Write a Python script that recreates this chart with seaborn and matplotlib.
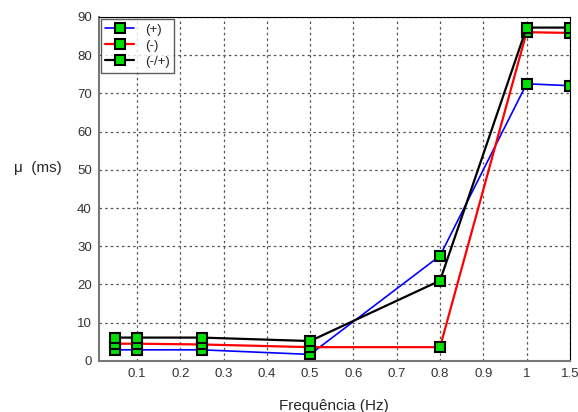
import numpy as np
import pandas as pd
import matplotlib
matplotlib.use("Agg")
import matplotlib.pyplot as plt
import seaborn as sns

freq = [0.05, 0.1, 0.25, 0.5, 0.8, 1.0, 1.5]
mu_pos = [2.9, 2.9, 2.9, 1.7, 27.5, 72.5, 72.0]
mu_neg = [4.5, 4.5, 4.3, 3.6, 3.6, 86.0, 85.8]
mu_mix = [6.1, 6.1, 6.1, 5.2, 21.0, 87.2, 87.2]
series_names = ["(+)", "(-)", "(-/+)"]
series_colors = ["#0000ff", "#ff0000", "#000000"]
series_widths = [1.2, 1.6, 1.6]
xticks = [0.1, 0.2, 0.3, 0.4, 0.5, 0.6, 0.7, 0.8, 0.9, 1.0, 1.5]
xtick_labels = ["0.1", "0.2", "0.3", "0.4", "0.5", "0.6", "0.7", "0.8", "0.9", "1", "1.5"]
yticks = [0, 10, 20, 30, 40, 50, 60, 70, 80, 90]

df = pd.DataFrame({
    "freq": freq * 3,
    "mu": mu_pos + mu_neg + mu_mix,
    "serie": [s for s in series_names for _ in freq],
})


def fwd(x):
    x = np.asarray(x, dtype=float)
    return np.where(x <= 1, x, 1 + (x - 1) * 0.2)


def inv(x):
    x = np.asarray(x, dtype=float)
    return np.where(x <= 1, x, 1 + (x - 1) * 5)


sns.set_style("white")
plt.rcParams["font.family"] = ["Liberation Sans", "DejaVu Sans"]

fig = plt.figure(figsize=(5.78, 4.12), dpi=100)
ax = fig.add_axes([0.171, 0.124, 0.815, 0.835])
ax.set_xscale("function", functions=(fwd, inv))

for name, color, lw in zip(series_names, series_colors, series_widths):
    sub = df[df["serie"] == name]
    sns.lineplot(data=sub, x="freq", y="mu", ax=ax, color=color, linewidth=lw,
                 marker="s", markersize=6.5, markerfacecolor="#00e000",
                 markeredgecolor="black", markeredgewidth=1.5, label=name,
                 estimator=None, sort=False)

ax.set_xlim(0.012, 1.5)
ax.set_ylim(0, 90)
ax.set_xticks(xticks)
ax.set_xticklabels(xtick_labels)
ax.set_yticks(yticks)
ax.minorticks_off()
ax.tick_params(direction="in", length=3, labelsize=9.5, colors="#333333", pad=5)
ax.grid(True, linestyle=(0, (2, 2.5)), color="#555555", linewidth=0.9)

for side in ["top", "right"]:
    ax.spines[side].set_color("black")
    ax.spines[side].set_linewidth(0.8)
for side in ["left", "bottom"]:
    ax.spines[side].set_color("#777777")
    ax.spines[side].set_linewidth(1.5)

ax.set_xlabel("Frequência (Hz)", fontsize=11, labelpad=14)
ax.set_ylabel("μ  (ms)", fontsize=11, rotation=0, labelpad=28)
ax.yaxis.set_label_coords(-0.13, 0.54)

leg = ax.legend(loc="upper left", fontsize=9.5, frameon=True, fancybox=False,
                edgecolor="#333333", borderaxespad=0.15, handlelength=2.2,
                labelspacing=0.3, borderpad=0.35, handletextpad=0.8)
leg.get_frame().set_linewidth(1.0)

fig.savefig("out.png", dpi=100)
